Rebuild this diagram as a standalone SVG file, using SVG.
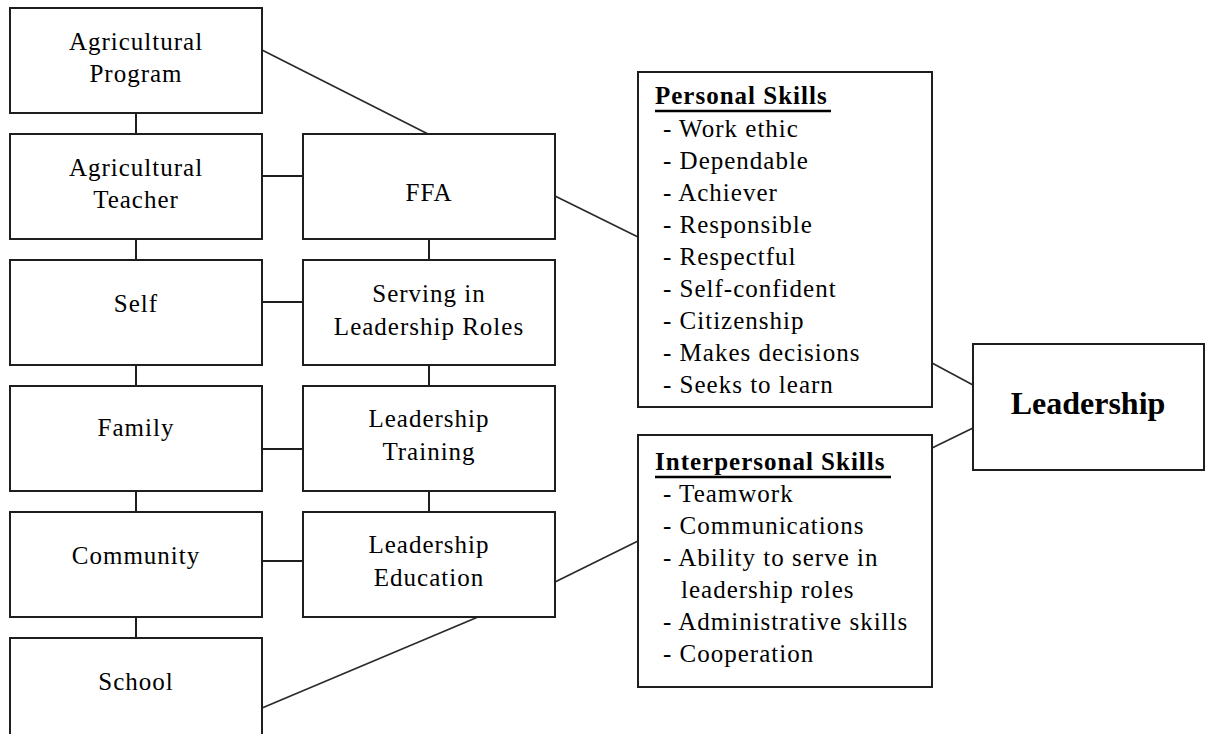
<svg xmlns="http://www.w3.org/2000/svg" width="1210" height="734" viewBox="0 0 1210 734">
  <style>
    .box { fill: #ffffff; stroke: #1e1e1e; stroke-width: 2; }
    .link { fill: none; stroke: #1e1e1e; stroke-width: 2; }
    .diag { fill: none; stroke: #2a2a2a; stroke-width: 1.7; }
    .lbl { font-family: "Liberation Serif", "Times New Roman", serif; font-size: 25px; letter-spacing: 1px; fill: #000000; text-anchor: middle; }
    .item { font-family: "Liberation Serif", "Times New Roman", serif; font-size: 25px; letter-spacing: 1px; fill: #000000; }
    .head { font-family: "Liberation Serif", "Times New Roman", serif; font-size: 25px; font-weight: bold; letter-spacing: 1px; fill: #000000; }
    .uline { stroke: #000000; stroke-width: 2.5; }
    .big { font-family: "Liberation Serif", "Times New Roman", serif; font-size: 32px; font-weight: bold; fill: #000000; text-anchor: middle; }
  </style>
  <rect x="0" y="0" width="1210" height="734" fill="#ffffff"/>

  <!-- connectors -->
  <g id="connectors">
    <!-- left column chain -->
    <line class="link" x1="136" y1="113" x2="136" y2="134"/>
    <line class="link" x1="136" y1="239" x2="136" y2="260"/>
    <line class="link" x1="136" y1="365" x2="136" y2="386"/>
    <line class="link" x1="136" y1="491" x2="136" y2="512"/>
    <line class="link" x1="136" y1="617" x2="136" y2="638"/>
    <!-- right column chain -->
    <line class="link" x1="429" y1="239" x2="429" y2="260"/>
    <line class="link" x1="429" y1="365" x2="429" y2="386"/>
    <line class="link" x1="429" y1="491" x2="429" y2="512"/>
    <!-- cross links -->
    <line class="link" x1="262" y1="176" x2="303" y2="176"/>
    <line class="link" x1="262" y1="302" x2="303" y2="302"/>
    <line class="link" x1="262" y1="449" x2="303" y2="449"/>
    <line class="link" x1="262" y1="561" x2="303" y2="561"/>
    <!-- slanted links -->
    <line class="diag" x1="262" y1="50" x2="428" y2="134"/>
    <line class="diag" x1="555" y1="196" x2="638" y2="237"/>
    <line class="diag" x1="555" y1="582" x2="638" y2="541"/>
    <line class="diag" x1="262" y1="708" x2="478" y2="617"/>
    <line class="diag" x1="932" y1="363" x2="973" y2="385"/>
    <line class="diag" x1="932" y1="448" x2="973" y2="428"/>
  </g>

  <!-- left column -->
  <g id="agricultural-program">
    <rect class="box" x="10" y="8" width="252" height="105"/>
    <text class="lbl" x="136" y="50">Agricultural</text>
    <text class="lbl" x="136" y="82">Program</text>
  </g>
  <g id="agricultural-teacher">
    <rect class="box" x="10" y="134" width="252" height="105"/>
    <text class="lbl" x="136" y="176">Agricultural</text>
    <text class="lbl" x="136" y="208">Teacher</text>
  </g>
  <g id="self">
    <rect class="box" x="10" y="260" width="252" height="105"/>
    <text class="lbl" x="136" y="312">Self</text>
  </g>
  <g id="family">
    <rect class="box" x="10" y="386" width="252" height="105"/>
    <text class="lbl" x="136" y="436">Family</text>
  </g>
  <g id="community">
    <rect class="box" x="10" y="512" width="252" height="105"/>
    <text class="lbl" x="136" y="564">Community</text>
  </g>
  <g id="school">
    <rect class="box" x="10" y="638" width="252" height="110"/>
    <text class="lbl" x="136" y="690">School</text>
  </g>

  <!-- middle column -->
  <g id="ffa">
    <rect class="box" x="303" y="134" width="252" height="105"/>
    <text class="lbl" x="429" y="201">FFA</text>
  </g>
  <g id="serving-roles">
    <rect class="box" x="303" y="260" width="252" height="105"/>
    <text class="lbl" x="429" y="302">Serving in</text>
    <text class="lbl" x="429" y="335">Leadership Roles</text>
  </g>
  <g id="leadership-training">
    <rect class="box" x="303" y="386" width="252" height="105"/>
    <text class="lbl" x="429" y="427">Leadership</text>
    <text class="lbl" x="429" y="460">Training</text>
  </g>
  <g id="leadership-education">
    <rect class="box" x="303" y="512" width="252" height="105"/>
    <text class="lbl" x="429" y="553">Leadership</text>
    <text class="lbl" x="429" y="586">Education</text>
  </g>

  <!-- skills -->
  <g id="personal-skills">
    <rect class="box" x="638" y="72" width="294" height="335"/>
    <text class="head" x="655" y="104">Personal Skills</text>
    <line class="uline" x1="655" y1="111" x2="831" y2="111"/>
    <text class="item" x="663" y="137">- Work ethic</text>
    <text class="item" x="663" y="169">- Dependable</text>
    <text class="item" x="663" y="201">- Achiever</text>
    <text class="item" x="663" y="233">- Responsible</text>
    <text class="item" x="663" y="265">- Respectful</text>
    <text class="item" x="663" y="297">- Self-confident</text>
    <text class="item" x="663" y="329">- Citizenship</text>
    <text class="item" x="663" y="361">- Makes decisions</text>
    <text class="item" x="663" y="393">- Seeks to learn</text>
  </g>
  <g id="interpersonal-skills">
    <rect class="box" x="638" y="435" width="294" height="252"/>
    <text class="head" x="655" y="470">Interpersonal Skills</text>
    <line class="uline" x1="655" y1="477" x2="891" y2="477"/>
    <text class="item" x="663" y="502">- Teamwork</text>
    <text class="item" x="663" y="534">- Communications</text>
    <text class="item" x="663" y="566">- Ability to serve in</text>
    <text class="item" x="681" y="598">leadership roles</text>
    <text class="item" x="663" y="630">- Administrative skills</text>
    <text class="item" x="663" y="662">- Cooperation</text>
  </g>

  <!-- outcome -->
  <g id="leadership">
    <rect class="box" x="973" y="344" width="231" height="126"/>
    <text class="big" x="1088" y="414">Leadership</text>
  </g>
</svg>
